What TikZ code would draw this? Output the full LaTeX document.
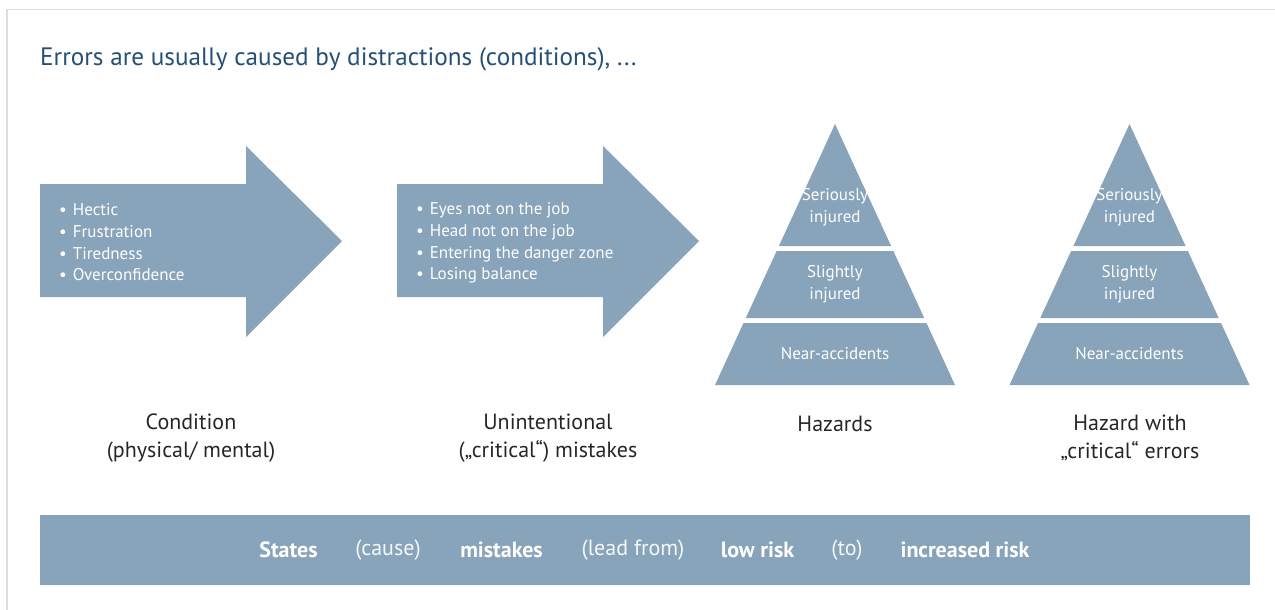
\documentclass[tikz,border=0pt]{standalone}
\usepackage{fontspec}
\setmainfont{PT Sans}
\definecolor{fillblue}{HTML}{87A4BA}
\definecolor{titleblue}{HTML}{22507C}
\definecolor{framegray}{HTML}{DEDEDE}
\definecolor{txtgray}{HTML}{262626}
\tikzset{
  shapefill/.style={fill=fillblue, draw=none},
  bullettext/.style={anchor=west, text=white, font=\fontsize{17}{20}\selectfont, inner sep=0pt},
  pyrtext/.style={text=white, font=\fontsize{17}{21.5}\selectfont, align=center, inner sep=0pt},
  captext/.style={text=txtgray, font=\fontsize{22}{28}\selectfont, align=center, inner sep=0pt},
  barbold/.style={text=white, font=\fontsize{22}{24}\selectfont\bfseries, inner sep=0pt},
  barlight/.style={text=white!92!fillblue, font=\fontsize{22}{24}\selectfont, inner sep=0pt},
}
\begin{document}
\begin{tikzpicture}[x=1pt,y=-1pt]
\useasboundingbox (0,0) rectangle (1275,610);
% frame
\draw[framegray, line width=1.6pt] (7,610) -- (7,9.5) -- (1275,9.5);
% title
\node[anchor=west, text=titleblue, font=\fontsize{25.2}{30}\selectfont, inner sep=0pt] (title) at (40,59) {Errors are usually caused by distractions (conditions), ...};

% arrow 1
\path[shapefill] (40,184) -- (246,184) -- (246,146) -- (342,241) -- (246,337) -- (246,297) -- (40,297) -- cycle;
\node[bullettext] (a1) at (59,210) {\textbullet\hspace{6pt}Hectic};
\node[bullettext] (a2) at (59,232) {\textbullet\hspace{6pt}Frustration};
\node[bullettext] (a3) at (59,254) {\textbullet\hspace{6pt}Tiredness};
\node[bullettext] (a4) at (59,275) {\textbullet\hspace{6pt}Overconfidence};

% arrow 2
\path[shapefill] (397,184) -- (603,184) -- (603,146) -- (699,241) -- (603,337) -- (603,297) -- (397,297) -- cycle;
\node[bullettext] (b1) at (416,210) {\textbullet\hspace{6pt}Eyes not on the job};
\node[bullettext] (b2) at (416,232) {\textbullet\hspace{6pt}Head not on the job};
\node[bullettext] (b3) at (416,254) {\textbullet\hspace{6pt}Entering the danger zone};
\node[bullettext] (b4) at (416,275) {\textbullet\hspace{6pt}Losing balance};

% pyramids (half widths precomputed: slope 120/261)
\foreach \cx/\nm in {835/p, 1129.5/q}{
  \path[shapefill] (\cx,124) -- ({\cx+56.09},246) -- ({\cx-56.09},246) -- cycle;
  \path[shapefill] ({\cx-58.39},251) -- ({\cx+58.39},251) -- ({\cx+89.20},318) -- ({\cx-89.20},318) -- cycle;
  \path[shapefill] ({\cx-91.49},323) -- ({\cx+91.49},323) -- ({\cx+120},385) -- ({\cx-120},385) -- cycle;
  \node[pyrtext] (\nm top) at (\cx,207) {Seriously\\injured};
  \node[pyrtext] (\nm mid) at (\cx,284) {Slightly\\injured};
  \node[pyrtext] (\nm low) at (\cx,354) {Near-accidents};
}

% captions
\node[captext] (c1) at (191,438) {Condition\\(physical/ mental)};
\node[captext] (c2) at (548,438) {Unintentional\\(„critical“) mistakes};
\node[captext] (c3) at (835,424) {Hazards};
\node[captext] (c4) at (1130,438) {Hazard with\\„critical“ errors};

% bottom bar
\path[shapefill] (40,515) rectangle (1250,585);
\node[barbold] (s1) at (288.5,550) {States};
\node[barlight] (s2) at (388,550) {(cause)};
\node[barbold] (s3) at (501.5,550) {mistakes};
\node[barlight] (s4) at (633,550) {(lead from)};
\node[barbold] (s5) at (757.5,550) {low risk};
\node[barlight] (s6) at (847,550) {(to)};
\node[barbold] (s7) at (965,550) {increased risk};
\end{tikzpicture}
\end{document}
